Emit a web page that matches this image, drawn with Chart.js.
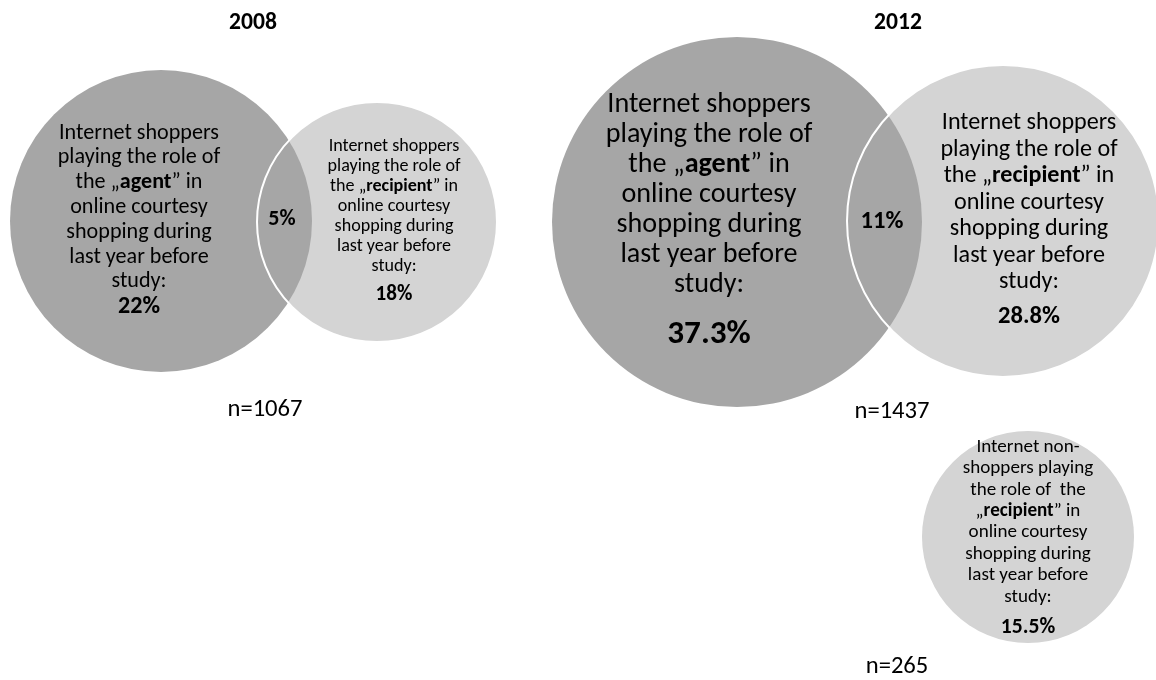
<!DOCTYPE html>
<html>
<head>
<meta charset="utf-8">
<style>
  html, body { margin: 0; background: #ffffff; }
  canvas { display: block; }
</style>
<script src="https://cdn.jsdelivr.net/npm/chart.js@4.4.1/dist/chart.umd.min.js"></script>
</head>
<body>
<canvas id="venn" width="1156" height="680"></canvas>
<script>
"use strict";

// DATA

const years = ["2008", "2012"];
const sampleSizes = [1067, 1437];
const nonShopperSample = 265;
const agentShare = [22, 37.3];          // % agent
const recipientShare = [18, 28.8];      // % recipient
const overlapShare = [5, 11];           // % both
const nonShopperRecipient = 15.5;       // % non-shoppers as recipient

const agentLines = ["Internet shoppers", "playing the role of", "the „**agent**” in",
    "online courtesy", "shopping during", "last year before", "study:"];
const recipientLines = ["Internet shoppers", "playing the role of", "the „**recipient**” in",
    "online courtesy", "shopping during", "last year before", "study:"];
const nonShopperLines = ["Internet non-", "shoppers playing", "the role of  the",
    "„**recipient**” in", "online courtesy", "shopping during", "last year before", "study:"];

// LAYOUT (canvas units)

const agentCircles = [{x: 161, y: 221, r: 151}, {x: 737, y: 222, r: 185}];
const recipientCircles = [{x: 377, y: 222, r: 120}, {x: 1003, y: 221, r: 156}];
const nonShopperCircle = {x: 1028, y: 537, r: 106};

const titlePos = [{x: 253, y: 23}, {x: 898, y: 23}];
const samplePos = [{x: 265, y: 410}, {x: 892, y: 412}];
const nonSamplePos = {x: 897, y: 667};
const overlapPos = [{x: 282, y: 219, size: 22}, {x: 882, y: 222, size: 24.5}];

// text blocks: centre x, first line y, line step, font size, percent y, percent size
const agentText = [
    {x: 139, y: 133, step: 24.8, size: 22, py: 307, psize: 24},
    {x: 709, y: 105, step: 30, size: 28, py: 335, psize: 33}
];
const recipientText = [
    {x: 394, y: 146, step: 20, size: 18, py: 295, psize: 21},
    {x: 1029, y: 123, step: 26.5, size: 24, py: 317, psize: 24.5}
];
const nonShopperText = {x: 1028, y: 447, step: 21.4, size: 19, py: 628, psize: 21.5};

const DARK = "#a6a6a6";
const LIGHT = "#d4d4d4";
const FAMILY = "Carlito, Lato, sans-serif";

const pct = v => String(v) + "%";

// font sizes above are read as Calibri sizes, rescale to whatever font we get
let fontScale = 1;

const richLine = (ctx, line, cx, y, size, allBold) => {
    const parts = line.split("**");
    const segs = parts.map((t, i) => ({t, bold: allBold || i % 2 === 1}));
    const px = size * fontScale;
    let total = 0;
    segs.forEach(s => {
        ctx.font = `${s.bold ? "bold " : ""}${px}px ${FAMILY}`;
        s.w = ctx.measureText(s.t).width;
        total += s.w;
    });
    let x = cx - total / 2;
    segs.forEach(s => {
        ctx.font = `${s.bold ? "bold " : ""}${px}px ${FAMILY}`;
        ctx.fillText(s.t, x, y);
        x += s.w;
    });
};

const drawBlock = (ctx, sx, sy, lines, t, value) => {
    lines.forEach((line, i) => {
        richLine(ctx, line, sx(t.x), sy(t.y + i * t.step), t.size, false);
    });
    richLine(ctx, pct(value), sx(t.x), sy(t.py), t.psize, true);
};

const labelsPlugin = {
    id: "vennLabels",
    afterDatasetsDraw(chart) {
        const ctx = chart.ctx;
        const sx = v => chart.scales.x.getPixelForValue(v);
        const sy = v => chart.scales.y.getPixelForValue(v);

        ctx.save();
        ctx.font = `100px ${FAMILY}`;
        fontScale = (7.27 * 100) / ctx.measureText("Internet shoppers").width;
        ctx.fillStyle = "#000000";
        ctx.textBaseline = "middle";
        ctx.textAlign = "left";

        years.forEach((yr, i) => {
            richLine(ctx, yr, sx(titlePos[i].x), sy(titlePos[i].y), 23.5, true);
            richLine(ctx, "n=" + sampleSizes[i], sx(samplePos[i].x), sy(samplePos[i].y), 24.5, false);
            richLine(ctx, pct(overlapShare[i]), sx(overlapPos[i].x), sy(overlapPos[i].y), overlapPos[i].size, true);
            drawBlock(ctx, sx, sy, agentLines, agentText[i], agentShare[i]);
            drawBlock(ctx, sx, sy, recipientLines, recipientText[i], recipientShare[i]);
        });
        drawBlock(ctx, sx, sy, nonShopperLines, nonShopperText, nonShopperRecipient);
        richLine(ctx, "n=" + nonShopperSample, sx(nonSamplePos.x), sy(nonSamplePos.y), 24.5, false);
        ctx.restore();
    }
};

const ctx = document.getElementById("venn").getContext("2d");

const vennChart = new Chart(ctx, {
    type: "bubble",
    data: {
        datasets: [
            {
                label: "outline",
                data: recipientCircles,
                backgroundColor: "rgba(0,0,0,0)",
                borderColor: "#ffffff",
                borderWidth: 2,
                order: 1
            },
            {
                label: "agent",
                data: agentCircles,
                backgroundColor: DARK,
                borderWidth: 0,
                order: 2
            },
            {
                label: "recipient",
                data: recipientCircles.concat([nonShopperCircle]),
                backgroundColor: LIGHT,
                borderWidth: 0,
                order: 3
            }
        ]
    },
    options: {
        responsive: false,
        animation: false,
        events: [],
        layout: { padding: 0, autoPadding: false },
        plugins: {
            legend: { display: false },
            tooltip: { enabled: false },
            title: { display: false }
        },
        scales: {
            x: { type: "linear", min: 0, max: 1156, display: false },
            y: { type: "linear", min: 0, max: 680, reverse: true, display: false }
        }
    },
    plugins: [labelsPlugin]
});
</script>
</body>
</html>
